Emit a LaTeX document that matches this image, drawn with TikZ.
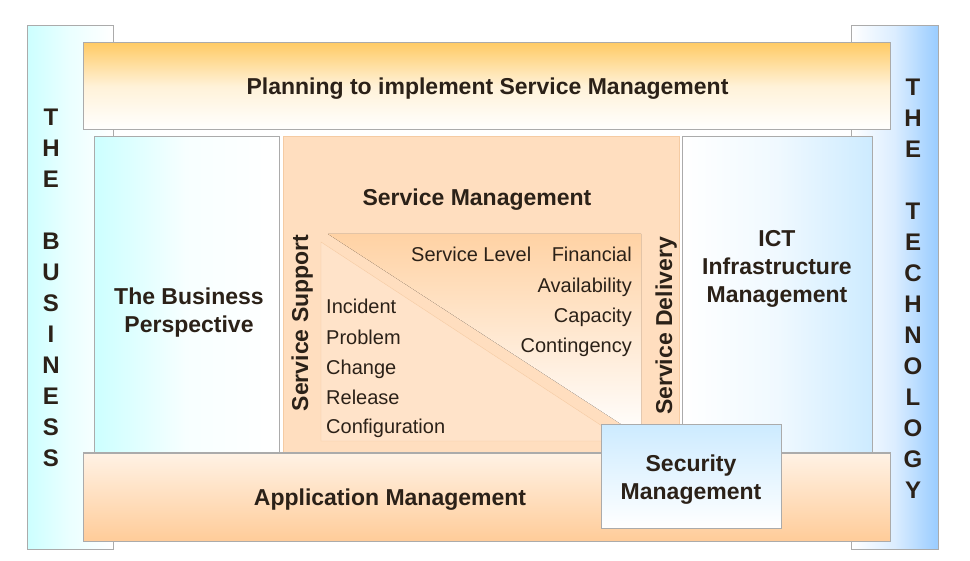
\documentclass[tikz,border=0pt]{standalone}
\usepackage{fontspec}
\setmainfont{Liberation Sans}

\definecolor{ink}{HTML}{2B2118}
\definecolor{frame}{HTML}{ABABAB}
\definecolor{cyanlt}{HTML}{CCFFFF}
\definecolor{bluelt}{HTML}{99CCFF}
\definecolor{skylt}{HTML}{CDEBFF}
\definecolor{gold}{HTML}{FFCB66}
\definecolor{peach}{HTML}{FFDEBF}
\definecolor{peachlt}{HTML}{FFE3C9}
\definecolor{peachdk}{HTML}{FFCC99}
\definecolor{peachtop}{HTML}{FFD2A4}
\definecolor{peachln}{HTML}{F5CBA3}
\definecolor{creamlt}{HTML}{FFF2E5}

\tikzset{
  panel/.style={draw=frame, line width=1pt},
  heading/.style={font=\fontsize{23}{28}\selectfont\bfseries, text=ink, align=center, inner sep=0pt},
  item/.style={font=\fontsize{20}{24}\selectfont, text=ink, inner sep=0pt},
  pillar/.style={font=\fontsize{24}{31}\selectfont\bfseries, text=ink, align=center, inner sep=0pt},
}

\begin{document}
\begin{tikzpicture}[x=1pt,y=-1pt]
    \useasboundingbox (0,0) rectangle (970,561);

    \coordinate (BusA) at (27,26);
    \coordinate (BusB) at (113,549);
    \coordinate (TecA) at (851,26);
    \coordinate (TecB) at (938,549);
    \coordinate (PlanA) at (83,43);
    \coordinate (PlanB) at (890,130);
    \coordinate (PerA) at (94,137);
    \coordinate (PerB) at (279,453);
    \coordinate (SmA) at (283,137);
    \coordinate (SmB) at (679,453);
    \coordinate (IctA) at (682,137);
    \coordinate (IctB) at (872,453);
    \coordinate (AppA) at (83,453);
    \coordinate (AppB) at (890,541);
    \coordinate (SecA) at (601,425);
    \coordinate (SecB) at (781,528);

    % the two pillars
    \draw[panel, left color=cyanlt, right color=white, middle color=cyanlt!40!white] (BusA) rectangle (BusB);
    \draw[panel, left color=white, right color=bluelt, middle color=bluelt!35!white] (TecA) rectangle (TecB);

    \draw[panel, top color=gold, bottom color=white, middle color=gold!25!white] (PlanA) rectangle (PlanB);
    \draw[panel, left color=cyanlt, right color=white, middle color=cyanlt!15!white] (PerA) rectangle (PerB);
    \draw[panel, left color=white, right color=skylt, middle color=skylt!30!white] (IctA) rectangle (IctB);
    \draw[draw=peachln, line width=1pt, fill=peach] (SmA) rectangle (SmB);

    % support / delivery split
    \fill[top color=peachtop, bottom color=white] (328,234) -- (641,234) -- (641,437) -- cycle;
    \draw[draw=peachln, fill=peachlt] (321,242) -- (321,441) -- (625,441) -- cycle;

    \draw[panel, top color=creamlt, bottom color=peachdk] (AppA) rectangle (AppB);
    \draw[panel, top color=skylt, bottom color=white] (SecA) rectangle (SecB);

    \node[pillar] (business) at (51,288) {T\\H\\E\\\mbox{}\\B\\U\\S\\I\\N\\E\\S\\S};
    \node[pillar] (technology) at (913,288.5) {T\\H\\E\\\mbox{}\\T\\E\\C\\H\\N\\O\\L\\O\\G\\Y};

    \node[heading, anchor=base] (plan) at (487.5,95) {Planning to implement Service Management};
    \node[heading] (perspective) at (189,312.5) {The Business\\Perspective};
    \node[heading] (ict) at (777,268.5) {ICT\\Infrastructure\\Management};
    \node[heading, anchor=base] (servmgmt) at (477,206) {Service Management};
    \node[heading, anchor=base] (appmgmt) at (390,505) {Application Management};
    \node[heading] (secmgmt) at (691,479.5) {Security\\Management};

    \node[heading, anchor=base, rotate=90] (support) at (308,323) {Service Support};
    \node[heading, anchor=base, rotate=90] (delivery) at (672,326) {Service Delivery};

    \node[item, anchor=base west] (incident) at (326,314) {Incident};
    \node[item, anchor=base west] (problem) at (326,345) {Problem};
    \node[item, anchor=base west] (change) at (326,375) {Change};
    \node[item, anchor=base west] (release) at (326,405) {Release};
    \node[item, anchor=base west] (config) at (326,434) {Configuration};

    \node[item, anchor=base west] (level) at (411,262) {Service Level};
    \node[item, anchor=base east] (financial) at (632,262) {Financial};
    \node[item, anchor=base east] (avail) at (632,293) {Availability};
    \node[item, anchor=base east] (capacity) at (632,323) {Capacity};
    \node[item, anchor=base east] (contingency) at (632,353) {Contingency};
\end{tikzpicture}
\end{document}
